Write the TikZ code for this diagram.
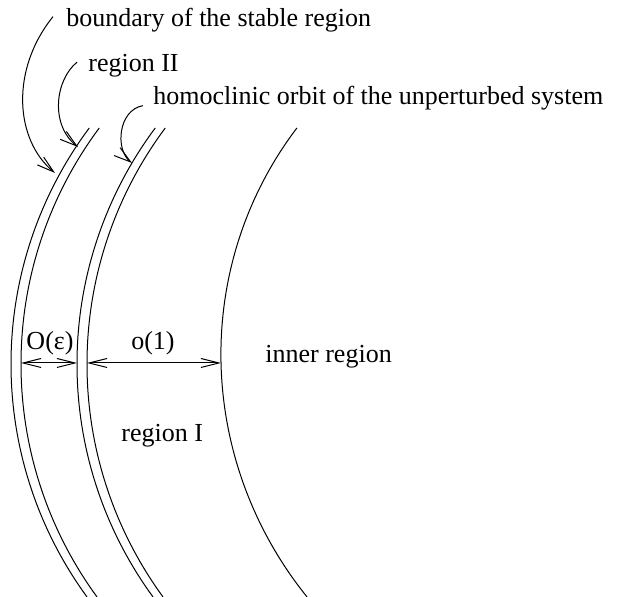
\documentclass[tikz,border=0pt]{standalone}
\usepackage{fontspec}
\setmainfont{Liberation Serif}
\usetikzlibrary{arrows.meta}

\begin{document}
\begin{tikzpicture}[
  x=0.5pt, y=-0.5pt,
  orbit/.style={line width=0.5pt},
  lbl/.style={font=\fontsize{13}{15}\selectfont, inner sep=4pt, anchor=base west},
  dimlbl/.style={font=\fontsize{13}{15}\selectfont, inner sep=0pt, anchor=base},
  pointer/.style={line width=0.5pt, -{Straight Barb[length=8.5pt,width=5pt]}},
  dim/.style={line width=0.5pt, {Straight Barb[length=9pt,width=4.5pt]}-{Straight Barb[length=9pt,width=4.5pt]}}
]
\useasboundingbox (0,0) rectangle (618,597);

% double curves (stable boundary, homoclinic orbit) and the inner one
\foreach \cx in {406,416,472,482}
  \draw[orbit] plot[variable=\t, domain=128:597, samples=80, smooth]
    ({\cx-10*sqrt(39.5^2-((\t-364)/10)^2)}, \t);
\draw[orbit] plot[variable=\t, domain=128:597, samples=80, smooth]
  ({601-10*sqrt(38^2-((\t-362)/10)^2)+0.02*(\t-362)}, \t);

\coordinate (outerA) at (21,363);
\coordinate (innerB) at (77,363);
\coordinate (outerB) at (87,363);
\coordinate (innerC) at (221,363);
\coordinate (bndtip) at (55,173);
\coordinate (reg2tip) at (78,147);
\coordinate (homtip) at (132,163);

% labels
\node[lbl] (bnd) at (58,27) {boundary of the stable region};
\node[lbl] (reg2) at (80,72) {region II};
\node[lbl] (hom) at (145,105) {homoclinic orbit of the unperturbed system};
\node[lbl] (inner) at (257,363) {inner region};
\node[lbl] (reg1) at (113,442) {region I};
\node[dimlbl] (eps) at (50,350) {O(ε)};
\node[dimlbl] (small) at (153,350) {o(1)};

% pointers
\draw[pointer] ([shift={(-2.5pt,2pt)}]bnd.west) .. controls (10,70) and (15,140) .. (bndtip);
\draw[pointer] ([shift={(-1.5pt,2pt)}]reg2.west) .. controls (55,80) and (50,125) .. (reg2tip);
\draw[pointer] ([shift={(-1pt,-3.5pt)}]hom.west) .. controls (118,110) and (115,150) .. (homtip);

% widths
\draw[dim] (outerA) -- (innerB);
\draw[dim] (outerB) -- (innerC);
\end{tikzpicture}
\end{document}
